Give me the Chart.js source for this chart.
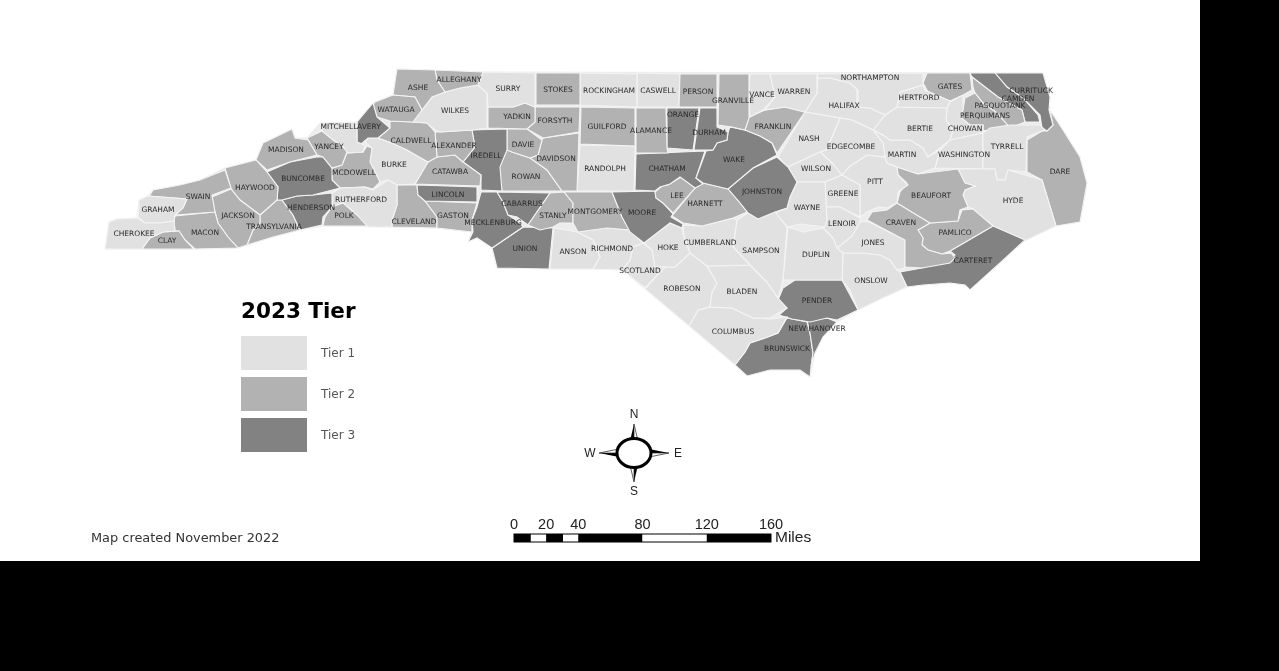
<!DOCTYPE html>
<html>
<head>
<meta charset="utf-8">
<title>2023 Tier</title>
<script src="https://cdn.jsdelivr.net/npm/chart.js@4"></script>
<style>
  html, body { margin: 0; padding: 0; background: #000; overflow: hidden; }
  #sheet { position: absolute; left: 0; top: 0; width: 1200px; height: 561px; background: #fff; }
  #mapChart { position: absolute; left: 0; top: 0; filter: blur(0.35px); }
</style>
</head>
<body>
<div id="sheet"></div>
<canvas id="mapChart" width="1279" height="671"></canvas>
<script>
// Tier lists
const tier1 = ["CHEROKEE","GRAHAM","MITCHELL","BURKE","RUTHERFORD","WILKES","SURRY","ROCKINGHAM","CASWELL","RANDOLPH","VANCE","WARREN","HALIFAX","NORTHAMPTON","HERTFORD","BERTIE","CHOWAN","EDGECOMBE","NASH","WILSON","MARTIN","WASHINGTON","TYRRELL","HYDE","PITT","GREENE","WAYNE","LENOIR","JONES","ONSLOW","DUPLIN","SAMPSON","CUMBERLAND","HOKE","SCOTLAND","RICHMOND","ANSON","ROBESON","BLADEN","COLUMBUS"];
const tier2 = ["CLAY","SWAIN","MACON","JACKSON","HAYWOOD","MADISON","YANCEY","MCDOWELL","TRANSYLVANIA","POLK","ASHE","ALLEGHANY","WATAUGA","CALDWELL","ALEXANDER","CATAWBA","GASTON","CLEVELAND","YADKIN","DAVIE","FORSYTH","DAVIDSON","ROWAN","STANLY","MONTGOMERY","STOKES","GUILFORD","ALAMANCE","PERSON","GRANVILLE","FRANKLIN","LEE","HARNETT","GATES","PASQUOTANK","PERQUIMANS","DARE","BEAUFORT","CRAVEN","PAMLICO"];
const tier3 = ["BUNCOMBE","HENDERSON","AVERY","IREDELL","LINCOLN","CABARRUS","MECKLENBURG","UNION","ORANGE","DURHAM","CHATHAM","WAKE","JOHNSTON","MOORE","CURRITUCK","CAMDEN","CARTERET","PENDER","NEW HANOVER","BRUNSWICK"];

const countyNames = ["CHEROKEE","CLAY","GRAHAM","SWAIN","MACON","JACKSON","HAYWOOD","MADISON","YANCEY","MITCHELL","BUNCOMBE","HENDERSON","TRANSYLVANIA","POLK","RUTHERFORD","MCDOWELL","AVERY","WATAUGA","ASHE","ALLEGHANY","SURRY","WILKES","CALDWELL","BURKE","ALEXANDER","CATAWBA","LINCOLN","GASTON","CLEVELAND","IREDELL","YADKIN","DAVIE","FORSYTH","DAVIDSON","ROWAN","STOKES","ROCKINGHAM","GUILFORD","RANDOLPH","ALAMANCE","ORANGE","DURHAM","PERSON","CASWELL","GRANVILLE","VANCE","WARREN","FRANKLIN","WAKE","CHATHAM","LEE","HARNETT","JOHNSTON","MOORE","MONTGOMERY","STANLY","CABARRUS","MECKLENBURG","UNION","ANSON","RICHMOND","SCOTLAND","HOKE","CUMBERLAND","SAMPSON","WAYNE","DUPLIN","LENOIR","GREENE","WILSON","NASH","EDGECOMBE","NORTHAMPTON","HALIFAX","HERTFORD","GATES","BERTIE","MARTIN","PITT","BEAUFORT","CRAVEN","PAMLICO","JONES","ONSLOW","CARTERET","HYDE","TYRRELL","WASHINGTON","CHOWAN","PERQUIMANS","PASQUOTANK","CAMDEN","CURRITUCK","DARE","BLADEN","ROBESON","COLUMBUS","PENDER","NEW HANOVER","BRUNSWICK"];

// county outlines as x,y pairs in map units, same order as countyNames
const countyOutlines = [
  [105,249,109,222,117,219,137,218,145,223,160,223,174,221,175,231,163,232,150,238,142,249],
  [142,249,150,238,163,232,179,231,185,240,194,249],
  [139,200,148,196,187,199,183,208,175,215,174,221,160,223,145,223,138,217,139,207],
  [150,195,153,190,180,185,200,180,225,170,231,188,212,195,215,212,175,215,183,208,187,199,148,196],
  [175,216,215,212,218,223,228,237,238,248,195,249,185,240,179,231,175,231,174,221],
  [212,197,231,189,240,200,260,215,260,223,253,230,247,245,238,248,228,237,218,223,215,212],
  [225,168,256,160,267,172,278,187,277,200,260,215,240,200,231,189],
  [256,160,263,143,292,129,295,138,308,140,317,155,290,162,267,170],
  [307,138,322,131,333,140,343,147,347,152,342,165,332,168,323,157,317,155],
  [320,123,357,122,357,142,365,145,363,152,348,153,343,147,333,140,322,131],
  [267,172,290,162,317,157,323,157,332,168,332,180,340,188,313,195,297,196,282,200,277,200,278,187],
  [282,200,297,196,313,195,332,193,332,207,323,217,322,225,300,230,293,215],
  [260,215,277,200,282,200,293,215,300,230,273,237,247,245,253,230,260,223],
  [323,226,325,217,332,207,343,203,357,215,367,226],
  [332,193,340,188,365,187,373,190,388,180,397,185,397,205,392,220,392,227,367,227,357,215,343,203,332,207],
  [342,165,347,153,363,152,367,146,372,148,370,162,380,182,373,189,365,187,340,188,332,180,332,168],
  [373,103,377,117,390,128,378,138,368,138,360,145,357,142,357,122],
  [375,102,393,95,415,97,422,110,413,122,390,121,377,117,373,105],
  [393,95,397,69,435,70,437,80,445,92,432,97,422,110,415,97],
  [435,70,483,72,478,85,460,88,445,92,437,80],
  [483,72,535,73,535,107,525,103,513,107,488,107,487,93,478,85],
  [422,110,432,97,445,92,460,88,478,85,487,93,487,128,472,130,440,132,435,130,427,123,413,122],
  [390,121,413,122,427,123,435,132,437,157,428,162,407,150,392,143,378,138,390,128],
  [368,138,378,138,392,143,407,150,428,162,415,184,397,185,388,180,380,182,370,162,372,148,365,142],
  [435,132,440,132,472,130,475,147,463,162,455,155,437,157],
  [428,162,437,157,455,155,463,162,481,175,480,186,415,184],
  [417,185,478,187,477,202,425,201,418,195],
  [425,201,477,203,475,210,472,220,472,232,437,228,437,217],
  [397,185,417,185,418,195,425,201,437,217,437,228,392,227,392,220,397,205],
  [472,130,507,129,507,150,500,167,502,191,481,190,481,175,463,162,475,147],
  [488,107,513,107,525,103,535,107,535,122,527,129,488,128],
  [507,129,527,129,542,140,538,155,530,158,512,152,507,150],
  [535,107,580,107,579,132,543,138,527,129,535,122],
  [543,138,579,133,577,191,562,191,547,170,530,158,538,155,542,140],
  [512,152,530,158,547,170,562,191,502,191,498,170,507,150],
  [536,73,580,73,580,105,536,105],
  [580,73,637,74,637,107,580,105],
  [581,107,635,108,635,146,580,144],
  [580,145,635,146,634,191,577,191],
  [636,108,666,108,667,148,668,153,636,153],
  [667,108,699,108,693,150,667,148],
  [700,108,717,108,717,127,728,132,727,140,717,143,713,150,694,150],
  [680,74,717,74,717,107,679,107],
  [637,73,680,74,679,107,637,107],
  [719,74,749,74,749,118,745,130,732,127,718,125],
  [750,74,770,74,775,97,763,110,750,117,749,90],
  [770,74,817,74,817,93,805,112,785,107,765,110,775,97],
  [765,110,785,107,805,112,777,153,772,143,760,136,745,130,749,117],
  [730,127,745,130,760,136,772,143,777,155,753,168,728,189,703,183,696,178,706,151,713,150,717,143,727,140,728,132],
  [636,154,705,151,696,178,703,184,695,188,687,182,680,177,670,184,660,187,655,191,635,190],
  [655,192,662,186,668,185,681,177,688,181,695,188,673,213,663,203,656,198],
  [703,183,728,189,740,203,747,212,733,218,702,226,683,223,672,216,695,188],
  [728,189,753,168,777,157,788,167,797,182,790,197,787,208,775,212,758,219,748,213,740,203],
  [612,192,655,191,656,198,663,203,673,214,671,217,683,224,682,228,670,223,644,243,630,232,622,217],
  [564,192,612,192,622,217,630,230,607,228,578,232,573,223,573,203],
  [550,193,564,192,573,203,573,223,560,223,553,227,540,230,528,225],
  [497,192,550,193,528,225,517,217,508,215,503,202],
  [481,192,497,192,503,202,508,215,520,223,523,227,492,248,477,238,468,242,473,232,472,220,477,207],
  [523,227,553,228,549,269,497,268,492,248],
  [554,228,577,232,593,240,600,257,593,269,550,269],
  [577,232,607,228,630,230,643,243,633,247,630,260,622,270,593,269,600,257,593,240],
  [643,243,652,250,655,267,665,267,645,288,622,270,630,260,633,247],
  [644,243,670,223,682,228,684,237,690,253,675,267,655,267,652,250],
  [683,225,702,226,733,218,737,220,733,247,750,265,707,266,690,253,684,237],
  [737,220,748,213,758,219,775,212,787,227,783,280,778,298,767,282,750,265,733,247],
  [797,182,825,182,827,220,825,227,800,224,788,227,775,213,787,208,790,197],
  [788,227,803,232,823,228,833,238,837,248,843,253,842,280,795,280,783,280],
  [826,207,840,207,860,218,860,222,852,236,837,248,833,238,823,228,827,220],
  [825,182,842,175,860,185,860,217,840,207,826,207],
  [788,167,820,152,832,163,842,175,825,182,797,182],
  [805,112,840,118,832,137,826,150,820,152,788,167,778,157],
  [840,118,852,120,873,130,883,143,885,157,867,155,850,166,842,175,832,163,820,152,826,150,832,137],
  [817,74,923,73,923,85,900,92,897,107,885,115,870,108,857,107,858,90,850,83,830,78,818,78],
  [818,78,830,78,850,83,858,90,857,107,870,108,885,115,873,130,852,120,840,118,805,112,817,93],
  [900,92,923,85,925,90,950,101,947,108,897,107],
  [927,73,970,73,972,90,963,95,950,101,928,92,923,83],
  [897,107,947,107,946,120,953,130,950,140,940,148,928,157,923,148,910,140,890,140,883,135,873,130,885,115],
  [873,130,883,135,890,140,910,140,923,148,928,157,940,150,935,168,918,174,897,167,887,163,885,157,883,143],
  [850,166,867,155,885,157,887,163,897,167,898,175,908,185,898,192,897,203,887,208,878,207,867,212,860,217,860,185,842,175],
  [897,167,918,174,958,169,962,177,965,183,975,186,965,190,963,195,968,207,960,210,958,221,930,223,897,203,900,192,907,183,898,175],
  [897,203,930,223,918,230,923,238,922,245,928,250,942,254,951,253,955,258,950,263,922,268,905,267,905,240,867,220,872,212,887,210],
  [930,223,958,221,962,210,973,209,993,226,950,251,942,254,928,250,922,245,923,238,918,230],
  [860,222,867,221,905,240,905,268,897,270,890,260,880,255,863,253,843,253,837,248,852,236],
  [843,253,863,253,880,255,890,260,897,270,900,272,907,287,883,298,858,310,850,290,842,280],
  [993,226,1025,240,1000,263,970,290,965,285,950,283,923,285,907,287,900,272,922,268,950,258,955,255,950,251],
  [958,169,995,169,997,180,1005,180,1008,170,1042,180,1056,226,1025,241,993,226,973,209,968,207,963,195,965,190,975,186,965,183,962,177],
  [983,133,990,128,1010,125,1040,125,1045,130,1027,137,1026,172,1010,170,1005,180,997,180,995,169,983,169],
  [950,140,983,133,983,169,935,168,940,150],
  [950,102,963,95,963,110,960,117,970,125,983,125,983,133,950,140,953,130,946,120,947,108],
  [963,110,965,98,975,93,983,103,997,113,1010,128,993,133,983,130,983,125,970,125,960,117],
  [972,77,998,97,1022,110,1025,122,1010,128,997,113,983,103,975,93,973,87],
  [970,73,995,73,1007,87,1023,98,1038,115,1040,122,1025,122,1022,110,998,97,972,77],
  [995,73,1043,73,1050,97,1049,110,1053,125,1047,131,1042,128,1040,115,1023,98,1007,87],
  [1050,110,1063,130,1080,157,1087,183,1080,222,1056,226,1042,180,1027,172,1027,140,1042,131,1047,131,1053,125],
  [707,266,750,265,767,282,778,298,787,308,770,318,753,318,732,308,710,307,712,293,717,283],
  [690,253,707,266,717,283,712,293,710,307,698,310,689,326,645,289,665,267,675,267],
  [710,307,732,308,753,318,770,319,787,317,778,333,765,338,750,343,745,352,735,365,689,326,698,310],
  [795,280,842,280,858,310,837,320,827,318,810,322,792,319,779,315,787,308,778,300,783,288],
  [807,320,827,318,837,322,823,337,815,353,811,367,813,353,810,333],
  [787,318,807,322,810,333,813,353,811,367,810,377,800,370,770,370,747,376,735,365,745,352,750,343,765,338,778,333]
];

// whole state, goes under the counties so slivers between outlines read as border
const stateOutline = [105,249,109,222,117,219,137,218,139,200,148,196,153,190,180,185,200,180,225,168,256,160,263,143,292,129,295,138,307,138,320,123,357,122,373,103,393,95,397,69,483,72,1043,73,1050,97,1049,110,1063,130,1080,157,1087,183,1080,222,1056,226,1025,240,1000,263,970,290,965,285,950,283,923,285,907,287,883,298,858,310,837,322,823,337,815,353,810,377,800,370,770,370,747,376,735,365,645,289,622,270,593,269,549,269,497,268,492,248,477,238,468,242,472,232,437,228,392,227,323,226,300,230,273,237,238,248,195,249];

// where each county name sits, same order as countyNames
const labelSpots = [[134,233],[167,240],[158,209],[198,196],[205,232],[238,215],[255,187],[286,149],[329,146],[339,126],[303,178],[311,207],[274,226],[344,215],[361,199],[354,172],[369,126],[396,109],[418,87],[459,79],[508,88],[455,110],[411,140],[394,164],[454,145],[450,171],[448,194],[453,215],[414,221],[486,155],[517,116],[523,144],[555,120],[556,158],[526,176],[558,89],[609,90],[607,126],[605,168],[651,130],[683,114],[709,132],[698,91],[658,90],[733,100],[762,94],[794,91],[773,126],[734,159],[667,168],[677,195],[705,203],[762,191],[642,212],[595,211],[553,215],[522,203],[493,222],[525,248],[573,251],[612,248],[640,270],[668,247],[710,242],[761,250],[807,207],[816,254],[842,223],[843,193],[816,168],[809,138],[851,146],[870,77],[844,105],[919,97],[950,86],[920,128],[902,154],[875,181],[931,195],[901,222],[955,232],[873,242],[871,280],[973,260],[1013,200],[1007,146],[964,154],[965,128],[985,115],[1000,105],[1018,98],[1031,90],[1060,171],[742,291],[682,288],[733,331],[817,300],[817,328],[787,348]];

const tierNames = ["Tier 1", "Tier 2", "Tier 3"];
const tierColors = ["#e1e1e1", "#b2b2b2", "#828282"];
const scaleMiles = [0, 20, 40, 80, 120, 160];

function tierOf(name) {
  if (tier3.includes(name)) return 2;
  if (tier2.includes(name)) return 1;
  return 0;
}

function outlinePoints(flat) {
  const pts = [];
  for (let i = 0; i < flat.length; i += 2) pts.push({ x: flat[i], y: flat[i + 1] });
  pts.push({ x: flat[0], y: flat[1] });
  return pts;
}

const datasets = countyNames.map((name, i) => ({
  label: name,
  data: outlinePoints(countyOutlines[i]),
  showLine: true,
  borderColor: "#f4f4f4",
  borderWidth: 1.1,
  pointRadius: 0,
  tension: 0,
  backgroundColor: tierColors[tierOf(name)],
}));

// last dataset is painted first
datasets.push({
  label: "state",
  data: outlinePoints(stateOutline),
  showLine: true,
  borderColor: "#ececec",
  borderWidth: 1,
  pointRadius: 0,
  tension: 0,
  backgroundColor: "#ececec",
});

// scatter lines do not close, so fill the county shape before its border goes on
const countyFill = {
  id: "countyFill",
  beforeDatasetDraw(chart, args) {
    const pts = args.meta.data;
    const ctx = chart.ctx;
    ctx.save();
    ctx.beginPath();
    pts.forEach((p, i) => (i ? ctx.lineTo(p.x, p.y) : ctx.moveTo(p.x, p.y)));
    ctx.closePath();
    ctx.fillStyle = chart.data.datasets[args.index].backgroundColor;
    ctx.fill();
    ctx.restore();
  },
};

// canvas "middle" sits about 1px high against the picture, hence the +1
function put(ctx, text, x, y, font, color, align) {
  ctx.font = font;
  ctx.fillStyle = color;
  ctx.textAlign = align || "center";
  ctx.textBaseline = "middle";
  ctx.fillText(text, x, y + 1);
}

// county names, legend, compass, scale bar
const mapExtras = {
  id: "mapExtras",
  afterDatasetsDraw(chart) {
    const ctx = chart.ctx;
    const sx = (v) => chart.scales.x.getPixelForValue(v);
    const sy = (v) => chart.scales.y.getPixelForValue(v);
    ctx.save();

    countyNames.forEach((name, i) => {
      put(ctx, name, sx(labelSpots[i][0]), sy(labelSpots[i][1]), "7.5px 'DejaVu Sans'", "#2a2a2a");
    });

    put(ctx, "2023 Tier", sx(241), sy(311), "bold 21.5px 'DejaVu Sans'", "#000", "left");
    const swatchTop = [336, 377, 418];
    tierNames.forEach((t, i) => {
      ctx.fillStyle = tierColors[i];
      ctx.fillRect(sx(241), sy(swatchTop[i]), 66, 34);
      put(ctx, t, sx(321), sy(swatchTop[i] + 17), "12px 'DejaVu Sans'", "#555", "left");
    });
    put(ctx, "Map created November 2022", sx(91), sy(538), "12.9px 'DejaVu Sans'", "#333", "left");

    // compass
    const cx = sx(634), cy = sy(453);
    const spike = (tipX, tipY, sideX, sideY, baseX, baseY) => {
      ctx.beginPath();
      ctx.moveTo(tipX, tipY);
      ctx.lineTo(baseX + sideX, baseY + sideY);
      ctx.lineTo(baseX, baseY);
      ctx.closePath();
      ctx.fillStyle = "#000";
      ctx.fill();
      ctx.beginPath();
      ctx.moveTo(tipX, tipY);
      ctx.lineTo(baseX - sideX, baseY - sideY);
      ctx.lineTo(baseX, baseY);
      ctx.closePath();
      ctx.fillStyle = "#fff";
      ctx.fill();
      ctx.strokeStyle = "#222";
      ctx.lineWidth = 0.7;
      ctx.stroke();
    };
    spike(cx, cy - 29, -4, 0, cx, cy - 12);
    spike(cx, cy + 29, 4, 0, cx, cy + 12);
    spike(cx - 35, cy, 0, 4, cx - 15, cy);
    spike(cx + 35, cy, 0, -4, cx + 15, cy);
    ctx.beginPath();
    ctx.ellipse(cx, cy, 17, 14.5, 0, 0, Math.PI * 2);
    ctx.fillStyle = "#fff";
    ctx.fill();
    ctx.strokeStyle = "#000";
    ctx.lineWidth = 3;
    ctx.stroke();
    const letterFont = "12px 'Liberation Sans'";
    put(ctx, "N", sx(634), sy(414), letterFont, "#222");
    put(ctx, "S", sx(634), sy(491), letterFont, "#222");
    put(ctx, "W", sx(590), sy(453), letterFont, "#222");
    put(ctx, "E", sx(678), sy(453), letterFont, "#222");

    // scale bar, 0 at x=514 and 160 miles at x=771
    const mile = (m) => sx(514 + (m * 257) / 160);
    const barCuts = [0, 10.5, 20, 30.5, 40, 80, 120, 160];
    for (let i = 0; i < barCuts.length - 1; i++) {
      ctx.fillStyle = i % 2 ? "#fff" : "#000";
      ctx.fillRect(mile(barCuts[i]), sy(534), mile(barCuts[i + 1]) - mile(barCuts[i]), 8);
    }
    ctx.strokeStyle = "#000";
    ctx.lineWidth = 1;
    ctx.strokeRect(mile(0), sy(534), mile(160) - mile(0), 8);
    scaleMiles.forEach((m) => {
      put(ctx, String(m), mile(m), sy(524), "14.5px 'Liberation Sans'", "#222");
    });
    put(ctx, "Miles", sx(775), sy(537), "15.5px 'Liberation Sans'", "#222", "left");

    ctx.restore();
  },
};

new Chart(document.getElementById("mapChart").getContext("2d"), {
  type: "scatter",
  data: { datasets },
  options: {
    responsive: false,
    animation: false,
    layout: { padding: 0 },
    plugins: { legend: { display: false }, tooltip: { enabled: false } },
    scales: {
      x: { type: "linear", display: false, min: 0, max: 1279 },
      y: { type: "linear", display: false, min: 0, max: 671, reverse: true },
    },
  },
  plugins: [countyFill, mapExtras],
});
</script>
</body>
</html>
